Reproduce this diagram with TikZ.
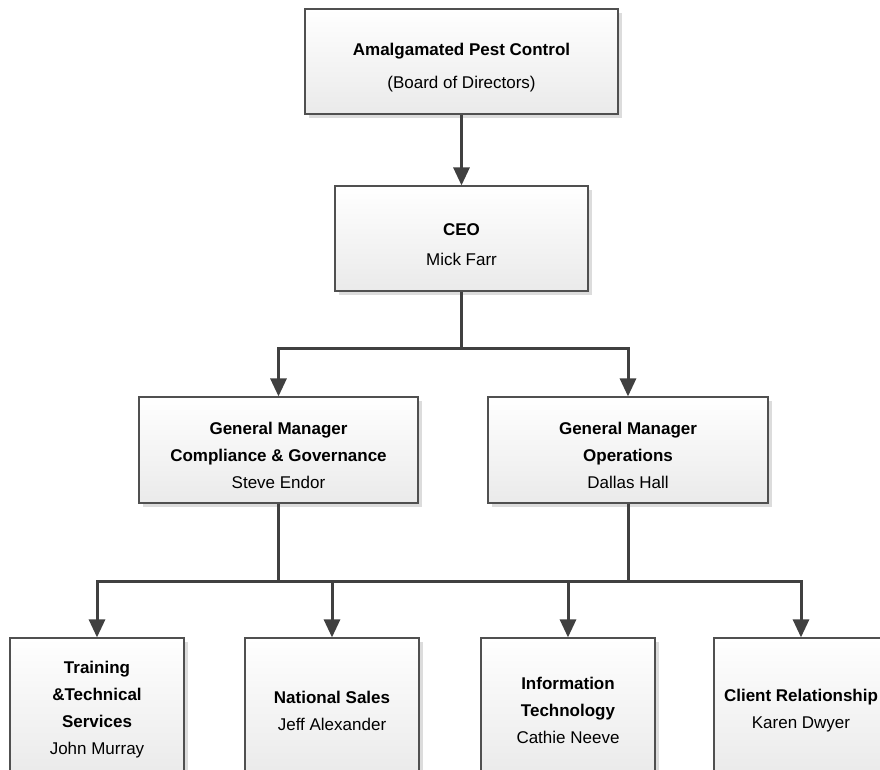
\documentclass[tikz,border=0pt]{standalone}
\usepackage{fontspec}
\setmainfont{Liberation Sans}
\usetikzlibrary{arrows.meta,shadows}
\definecolor{lineC}{RGB}{64,64,64}
\definecolor{borderC}{RGB}{80,80,80}
\definecolor{shadeC}{RGB}{234,234,234}
\definecolor{shadowC}{RGB}{220,220,220}
\tikzset{
  box/.style={draw=borderC, line width=1.2pt, top color=white, bottom color=shadeC,
    drop shadow={shadow xshift=4pt, shadow yshift=-4pt, fill=shadowC, opacity=1}},
  txt/.style={align=center, inner sep=0pt, font=\fontsize{17}{27}\selectfont},
  conn/.style={draw=lineC, line width=3pt},
  arr/.style={conn, -{Triangle[width=16pt,length=18pt]}}
}
\begin{document}
\begin{tikzpicture}[x=1pt,y=-1pt]
\useasboundingbox (0,0) rectangle (880,769);
\node[box, minimum width=313pt, minimum height=105pt] (top) at (461.5,61.5) {};
\node[box, minimum width=253pt, minimum height=105pt] (ceo) at (461.5,238.5) {};
\node[box, minimum width=279pt, minimum height=106pt] (gml) at (278.5,450) {};
\node[box, minimum width=280pt, minimum height=106pt] (gmr) at (628,450) {};
\node[box, minimum width=174pt, minimum height=137pt] (tr) at (97,706.5) {};
\node[box, minimum width=174pt, minimum height=137pt] (ns) at (332,706.5) {};
\node[box, minimum width=174pt, minimum height=137pt] (it) at (568,706.5) {};
\node[box, minimum width=174pt, minimum height=137pt] (cr) at (801,706.5) {};
\node[txt] (topT) at ([yshift=-6pt]top.center)
  {\textbf{Amalgamated Pest Control}\\[6pt](Board of Directors)};
\node[txt] (ceoT) at ([yshift=-6pt]ceo.center) {\textbf{CEO}\\[3pt]Mick Farr};
\node[txt] (gmlT) at ([yshift=-5pt]gml.center)
  {\textbf{General Manager}\\\textbf{Compliance \& Governance}\\Steve Endor};
\node[txt] (gmrT) at ([yshift=-5pt]gmr.center)
  {\textbf{General Manager}\\\textbf{Operations}\\Dallas Hall};
\node[txt] (trT) at ([yshift=-3pt]tr.center)
  {\textbf{Training}\\\textbf{\&Technical}\\\textbf{Services}\\John Murray};
\node[txt] (nsT) at ([yshift=-4pt]ns.center) {\textbf{National Sales}\\Jeff Alexander};
\node[txt] (itT) at ([yshift=-4pt]it.center)
  {\textbf{Information}\\\textbf{Technology}\\Cathie Neeve};
\node[txt] (crT) at ([yshift=-4pt]cr.center) {\textbf{Client Relationship}\\Karen Dwyer};
\coordinate (b1) at (461.5,348);
\coordinate (b2) at (278.5,581);
\coordinate (b3) at (628,581);
\draw[arr] (top.south) -- (ceo.north);
\draw[conn] (ceo.south) -- (b1);
\draw[arr] (b1) -| (gml.north);
\draw[arr] (b1) -| (gmr.north);
\draw[conn] (gml.south) -- (b2);
\draw[conn] (gmr.south) -- (b3);
\draw[conn] (b2) -- (b3);
\draw[arr] (b2) -| (tr.north);
\draw[arr] (b2) -| (ns.north);
\draw[arr] (b3) -| (it.north);
\draw[arr] (b3) -| (cr.north);
\end{tikzpicture}
\end{document}
